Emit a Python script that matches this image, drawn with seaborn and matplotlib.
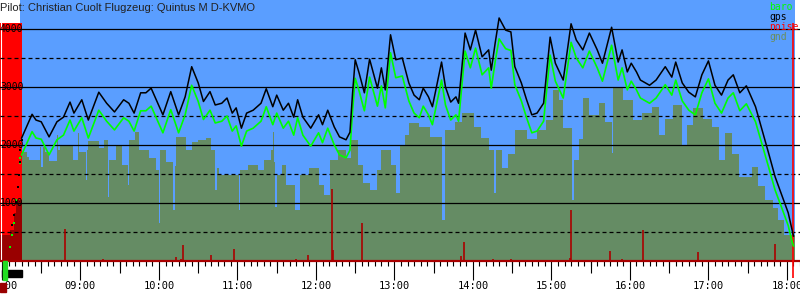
import numpy as np
import pandas as pd
import matplotlib
matplotlib.use("Agg")
import matplotlib.pyplot as plt
import seaborn as sns
from matplotlib.patches import Rectangle

TITLE = "Pilot: Christian Cuolt Flugzeug: Quintus M D-KVMO"

# === flight data ===
gps_times = ["08:15", "08:23", "08:26", "08:30", "08:36", "08:42", "08:47", "08:52", "08:55", "09:01",
             "09:06", "09:14", "09:20", "09:26", "09:33", "09:37", "09:41", "09:46", "09:50", "09:54",
             "10:03", "10:09", "10:15", "10:20", "10:25", "10:30", "10:34", "10:39", "10:43", "10:48",
             "10:52", "10:56", "10:59", "11:03", "11:07", "11:12", "11:18", "11:22", "11:27", "11:30",
             "11:35", "11:39", "11:43", "11:46", "11:50", "11:56", "12:02", "12:05", "12:09", "12:14",
             "12:18", "12:23", "12:26", "12:28", "12:30", "12:33", "12:37", "12:41", "12:47", "12:50",
             "12:53", "12:57", "13:01", "13:06", "13:11", "13:15", "13:19", "13:22", "13:26", "13:29",
             "13:36", "13:39", "13:43", "13:47", "13:49", "13:54", "13:58", "14:02", "14:07", "14:12",
             "14:14", "14:17", "14:20", "14:25", "14:29", "14:32", "14:37", "14:41", "14:45", "14:49",
             "14:54", "14:59", "15:03", "15:09", "15:15", "15:19", "15:24", "15:29", "15:35", "15:39",
             "15:46", "15:51", "15:54", "15:58", "16:01", "16:05", "16:08", "16:15", "16:20", "16:27",
             "16:32", "16:35", "16:40", "16:45", "16:50", "16:55", "17:00", "17:05", "17:10", "17:15",
             "17:19", "17:24", "17:29", "17:36", "17:41", "17:46", "17:51", "17:56", "18:01", "18:04",
             "18:05"]
gps_alt = [2120, 2530, 2430, 2400, 2140, 2400, 2480, 2740, 2550, 2780,
           2430, 2910, 2720, 2570, 2780, 2720, 2550, 2900, 2900, 2980,
           2520, 2920, 2520, 2830, 3350, 3070, 2750, 2920, 2690, 2720,
           2810, 2550, 2640, 2290, 2550, 2600, 2720, 2970, 2660, 2860,
           2600, 2720, 2480, 2780, 2480, 2290, 2520, 2350, 2600, 2310,
           2140, 2090, 2220, 2900, 3470, 3240, 2900, 3480, 2980, 3330,
           2950, 3900, 3470, 3500, 3070, 2860, 2780, 2980, 2830, 2660,
           3430, 3000, 2740, 2830, 2720, 3930, 3640, 3980, 3520, 3640,
           3290, 3760, 4190, 3980, 3950, 3350, 3070, 2780, 2520, 2550,
           2720, 3860, 3410, 3120, 4090, 3810, 3640, 3930, 3640, 3410,
           4030, 3430, 3640, 3260, 3410, 3260, 3120, 3030, 3120, 3350,
           3170, 3430, 3070, 2910, 2830, 3210, 3450, 3030, 2860, 3120,
           3210, 2900, 3020, 2660, 2260, 1860, 1450, 1140, 830, 530,
           430]
baro_alt = [1830, 2230, 2120, 2100, 1830, 2090, 2170, 2430, 2240, 2470,
            2120, 2600, 2410, 2260, 2470, 2410, 2240, 2590, 2590, 2670,
            2210, 2610, 2210, 2520, 3030, 2750, 2440, 2600, 2380, 2410,
            2500, 2240, 2330, 1980, 2240, 2290, 2410, 2660, 2350, 2550,
            2290, 2410, 2170, 2470, 2170, 1980, 2210, 2040, 2290, 2000,
            1830, 1780, 1910, 2590, 3150, 2930, 2590, 3170, 2670, 3020,
            2640, 3590, 3160, 3190, 2760, 2550, 2470, 2670, 2520, 2350,
            3120, 2690, 2430, 2520, 2410, 3620, 3330, 3670, 3210, 3330,
            2980, 3440, 3830, 3660, 3630, 3040, 2760, 2470, 2210, 2240,
            2410, 3550, 3100, 2810, 3770, 3500, 3330, 3620, 3330, 3100,
            3720, 3120, 3330, 2950, 3100, 2950, 2810, 2720, 2810, 3040,
            2860, 3120, 2760, 2600, 2520, 2900, 3140, 2720, 2550, 2810,
            2900, 2590, 2710, 2400, 2010, 1620, 1220, 920, 610, 330,
            260]

# aerotow climb (sparse fixes)
tow_times = ["08:06", "08:08", "08:09", "08:11", "08:12", "08:13", "08:14", "08:14", "08:15"]
tow_gps = [None, 620, 790, 1020, 1280, 1480, 1710, 1910, 2090]
tow_baro = [240, 450, 650, 1050, 1280, 1480, 1690, 1780, None]

# terrain under the track (step values)
gnd_times = ["08:15", "08:19", "08:21", "08:29", "08:30", "08:31", "08:33", "08:36", "08:42", "08:43",
             "08:44", "08:54", "08:58", "08:59", "09:04", "09:05", "09:06", "09:14", "09:18", "09:21",
             "09:22", "09:27", "09:32", "09:36", "09:37", "09:42", "09:45", "09:52", "09:58", "10:00",
             "10:01", "10:05", "10:11", "10:12", "10:13", "10:21", "10:25", "10:30", "10:36", "10:40",
             "10:43", "10:44", "10:46", "11:01", "11:02", "11:08", "11:16", "11:20", "11:26", "11:27",
             "11:28", "11:29", "11:30", "11:34", "11:37", "11:44", "11:48", "11:55", "12:02", "12:06",
             "12:11", "12:17", "12:23", "12:27", "12:32", "12:36", "12:41", "12:47", "12:50", "12:57",
             "13:01", "13:04", "13:08", "13:11", "13:19", "13:27", "13:36", "13:39", "13:46", "13:52",
             "14:01", "14:06", "14:12", "14:16", "14:18", "14:22", "14:27", "14:32", "14:41", "14:49",
             "14:56", "15:01", "15:06", "15:09", "15:16", "15:17", "15:21", "15:24", "15:29", "15:36",
             "15:41", "15:46", "15:47", "15:55", "16:02", "16:09", "16:17", "16:22", "16:27", "16:33",
             "16:40", "16:44", "16:48", "16:56", "17:03", "17:08", "17:13", "17:18", "17:23", "17:33",
             "17:38", "17:43", "17:49", "17:53", "17:58", "18:06"]
gnd_alt = [1880, 1790, 1740, 1970, 1620, 1970, 1880, 1720, 2170, 1910,
           2000, 1740, 2210, 1880, 1400, 1910, 2070, 1950, 2090, 1100,
           1740, 2000, 1660, 1310, 2090, 2220, 1910, 1780, 1570, 660,
           1910, 1710, 880, 1640, 2140, 1910, 2050, 2090, 2120, 1910,
           1220, 1600, 1480, 880, 1570, 1660, 1570, 1740, 1910, 2220,
           1700, 930, 1480, 1660, 1310, 880, 1480, 1600, 1310, 1140,
           1740, 1910, 1780, 2090, 1660, 1350, 1220, 1570, 1910, 1660,
           1170, 2000, 2170, 2380, 2310, 2140, 710, 2260, 2400, 2550,
           2310, 2120, 1910, 1170, 1910, 1600, 1850, 2260, 2100, 2260,
           2430, 2950, 2780, 2290, 1050, 1740, 2100, 2810, 2520, 2720,
           2400, 1860, 2980, 2780, 2430, 2550, 2660, 2170, 2450, 2690,
           2000, 2350, 2640, 2450, 2310, 1740, 2210, 1850, 1450, 1620,
           1300, 1050, 910, 710, 450, 450]
tow_gnd_times = ["07:58", "08:06", "08:09", "08:11", "08:15"]
tow_gnd_alt = [450, 530, 820, 1050, 1050]

# engine / noise
noise_times = ["08:48", "09:17", "10:13", "10:17", "10:18", "10:40", "10:57", "11:45", "11:54",
               "12:12", "12:13", "12:35", "13:51", "13:53", "14:15", "14:29", "15:14", "15:15",
               "15:45", "15:54", "16:10", "16:52", "17:51"]
noise_vals = [550, 35, 70, 40, 280, 100, 210, 40, 100,
              1240, 190, 650, 90, 330, 35, 40, 60, 880,
              170, 40, 530, 160, 290]
tow_noise = 4100
land_noise_time = "18:05"
data_start = "08:14"

hour_labels = ["08:00", "09:00", "10:00", "11:00", "12:00", "13:00",
               "14:00", "15:00", "16:00", "17:00", "18:00"]


def hours(s):
    h, m = s.split(":")
    return int(h) + int(m) / 60.0


def hours_list(lst):
    return np.array([hours(s) for s in lst])


BLUE = "#5a9eff"
GND = "#658c64"
DARKRED = "#aa0000"
MONO = "DejaVu Sans Mono"

plt.rcParams["font.family"] = ["Liberation Sans", "DejaVu Sans"]

fig = plt.figure(figsize=(8, 3), dpi=100)
fig.patch.set_facecolor("white")
ax = fig.add_axes([0, 39 / 300, 1, 261 / 300])
x0 = 8 - 2 / 79
x1 = 8 + 798 / 79
ax.set_xlim(x0, x1)
ax.set_ylim(0, 4500)
ax.set_facecolor("white")
for s in ax.spines.values():
    s.set_visible(False)

# sky
ax.axvspan(hours(data_start), x1, color=BLUE, lw=0, zorder=0)

# tow phase noise band + terrain during tow
ax.fill_between([x0, hours("08:15")], 0, tow_noise, color="#ff0000", lw=0, zorder=0.5)
ax.fill_between(hours_list(tow_gnd_times), 0, tow_gnd_alt, step="post",
                color="#990000", lw=0, zorder=0.6)
ax.axvline(8 - 0.5 / 79, color="white", lw=0.8, zorder=0.7)

# terrain
ax.fill_between(hours_list(gnd_times), 0, gnd_alt, step="post", color=GND, lw=0, zorder=1)

# grid
for v in range(1000, 4001, 1000):
    ax.axhline(v, color="black", lw=0.9, zorder=2)
for v in range(500, 4001, 1000):
    ax.axhline(v, color="black", lw=0.9, ls=(0, (3.2, 2.4)), zorder=2)

# noise spikes
ax.vlines(hours_list(noise_times), 0, noise_vals, color=DARKRED, lw=1.2, zorder=2.5)
ax.axhline(0, color=DARKRED, lw=1.6, zorder=2.6, clip_on=False)
ax.vlines(hours(land_noise_time), -290, tow_noise, color="#ff0000", lw=1.2,
          zorder=2.7, clip_on=False)

# barogram
sns.lineplot(x=hours_list(gps_times), y=baro_alt, ax=ax, color="#00ff00", lw=1.2,
             estimator=None, sort=False, zorder=3)
sns.lineplot(x=hours_list(gps_times), y=gps_alt, ax=ax, color="black", lw=1.1,
             estimator=None, sort=False, zorder=4)
tt = hours_list(tow_times)
tg = [(t, a) for t, a in zip(tt, tow_gps) if a is not None]
tb = [(t, a) for t, a in zip(tt, tow_baro) if a is not None]
sns.scatterplot(x=[p[0] for p in tb], y=[p[1] for p in tb], ax=ax, color="#00ff00",
                s=3, marker="s", linewidth=0, zorder=3)
sns.scatterplot(x=[p[0] for p in tg], y=[p[1] for p in tg], ax=ax, color="black",
                s=3, marker="s", linewidth=0, zorder=4)
ax.set_xlabel("")
ax.set_ylabel("")

# y labels inside the plot
for v in range(1000, 4001, 1000):
    ax.text(0.0, v, str(v), transform=ax.get_yaxis_transform(), ha="left", va="center",
            fontsize=7, family=MONO, color="black", zorder=5)
ax.tick_params(axis="y", left=False, labelleft=False)

# time axis
ax.set_xticks(hours_list(hour_labels))
ax.set_xticklabels(hour_labels, family=MONO, fontsize=7.5)
ax.set_xticks(np.arange(8, 18.2, 5 / 60), minor=True)
ax.tick_params(axis="x", which="major", direction="out", length=13.7, width=0.8, pad=1)
ax.tick_params(axis="x", which="minor", direction="out", length=3.6, width=0.8)
sec = ax.secondary_xaxis("bottom")
sec.set_xticks(np.arange(8.5, 18.2, 1.0))
sec.tick_params(axis="x", direction="out", length=8.6, width=0.8, labelbottom=False)
for s in sec.spines.values():
    s.set_visible(False)

# tow markers under the axis
trans = ax.get_xaxis_transform()
ax.add_patch(Rectangle((hours("08:00"), -16 / 261), hours("08:15") - hours("08:00"), 7 / 261,
                       transform=trans, color="black", clip_on=False, zorder=5))
ax.add_patch(Rectangle((hours("08:01"), -19 / 261), 3 / 60, 19 / 261,
                       transform=trans, color="#22dd22", clip_on=False, zorder=6))
ax.add_patch(Rectangle((x0, -31 / 261), 4.5 / 60, 9 / 261,
                       transform=trans, color="#990000", clip_on=False, zorder=6))

# title and legend
fig.text(0.0, 1 - 11 / 300, TITLE, ha="left", va="baseline", fontsize=8, color="#222222")
legend = [("baro", "#00ff00"), ("gps", "black"), ("noise", "#ff0000"), ("gnd", "#6b8e5b")]
for i, (name, col) in enumerate(legend):
    fig.text(769 / 800, 1 - (10 + 10 * i) / 300, name, ha="left", va="baseline",
             fontsize=7, family=MONO, color=col)

fig.savefig("out.png", dpi=100)
